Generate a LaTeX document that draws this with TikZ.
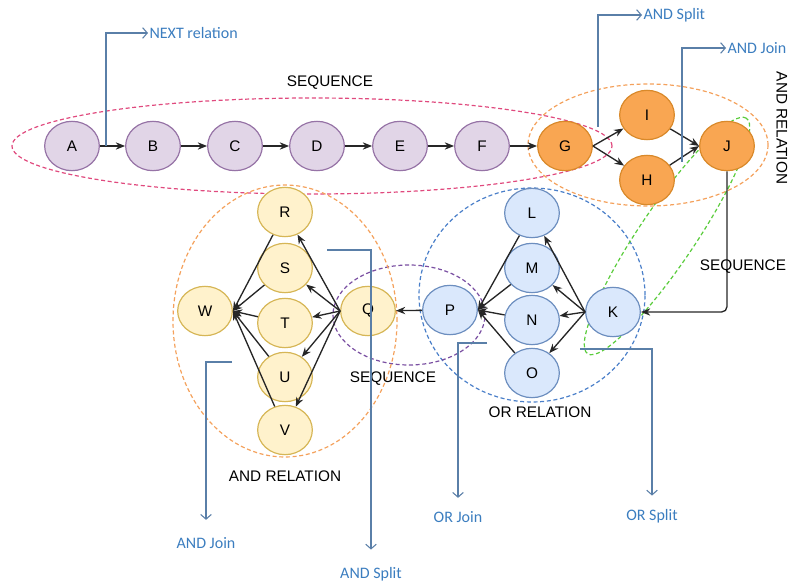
\documentclass[tikz,border=0pt]{standalone}
\usepackage{fontspec}
\setmainfont{Liberation Sans}
\newfontfamily\annfont{Carlito}
\usetikzlibrary{shapes.geometric, arrows.meta}
\definecolor{pufill}{HTML}{E1D5E7}
\definecolor{pudraw}{HTML}{9673A6}
\definecolor{orfill}{HTML}{F9A652}
\definecolor{ordraw}{HTML}{D9892A}
\definecolor{blfill}{HTML}{DAE8FC}
\definecolor{bldraw}{HTML}{6C8EBF}
\definecolor{yefill}{HTML}{FFF2CC}
\definecolor{yedraw}{HTML}{D6B656}
\definecolor{grpink}{HTML}{E04A7E}
\definecolor{grorange}{HTML}{F4A15C}
\definecolor{grblue}{HTML}{4A7FC9}
\definecolor{grpurple}{HTML}{7A4FA2}
\definecolor{grgreen}{HTML}{5ACC3C}
\definecolor{anndraw}{HTML}{5A7FA8}
\definecolor{anntext}{HTML}{3B7DBF}
\begin{document}
\begin{tikzpicture}[x=0.75pt, y=0.75pt, >={Stealth[length=7pt, width=5.5pt]}, font=\fontsize{11.5}{13}\selectfont,
	st/.style={ellipse, line width=0.9pt, minimum width=41pt, minimum height=37pt, inner sep=0pt},
	pu/.style={st, fill=pufill, draw=pudraw},
	og/.style={st, fill=orfill, draw=ordraw},
	bl/.style={st, fill=blfill, draw=bldraw},
	ye/.style={st, fill=yefill, draw=yedraw},
	flow/.style={->, line width=1pt, black!85},
	grp/.style={dash pattern=on 3pt off 2pt, line width=0.9pt},
	ann/.style={draw=anndraw, -{Straight Barb[length=3.5pt, width=8pt]}, line width=0.8pt},
	anntxt/.style={text=anntext, inner sep=1pt, font=\annfont\fontsize{12}{14}\selectfont}]
	\useasboundingbox (0,0) rectangle (793,-581);
	
	% groups
	\draw[grp, grpink] (312,-146) ellipse (300 and 48);
	\draw[grp, grorange] (648,-145) ellipse (120 and 61);
	\draw[grp, grblue] (532,-295) ellipse (113 and 107);
	\draw[grp, grpurple] (409,-315) ellipse (76 and 50);
	\draw[grp, grorange] (285,-321) ellipse (112 and 136);
	\draw[grp, grgreen, rotate around={56:(667,-236)}] (667,-236) ellipse (142 and 28);
	
	% first row
	\node[pu] (A) at (72,-146) {A};
	\node[pu] (B) at (153,-146) {B};
	\node[pu] (C) at (235,-146) {C};
	\node[pu] (D) at (317,-146) {D};
	\node[pu] (E) at (400,-146) {E};
	\node[pu] (F) at (482,-146) {F};
	\node[og] (G) at (565,-146) {G};
	\node[og] (I) at (647,-115) {I};
	\node[og] (H) at (647,-180) {H};
	\node[og] (J) at (727,-146) {J};
	
	% OR part
	\node[bl] (L) at (532,-213) {L};
	\node[bl] (M) at (532,-268) {M};
	\node[bl] (N) at (532,-320) {N};
	\node[bl] (O) at (532,-373) {O};
	\node[bl] (K) at (613,-312) {K};
	\node[bl] (P) at (450,-310) {P};
	
	% AND part
	\node[ye] (Q) at (368,-311) {Q};
	\node[ye] (R) at (285,-212) {R};
	\node[ye] (S) at (285,-268) {S};
	\node[ye] (T) at (285,-323) {T};
	\node[ye] (U) at (285,-377) {U};
	\node[ye] (V) at (285,-430) {V};
	\node[ye] (W) at (205,-311) {W};
	
	\draw[flow] (A) -- (B);
	\draw[flow] (B) -- (C);
	\draw[flow] (C) -- (D);
	\draw[flow] (D) -- (E);
	\draw[flow] (E) -- (F);
	\draw[flow] (F) -- (G);
	\draw[flow] (G.east) -- (I);
	\draw[flow] (G.east) -- (H);
	\draw[flow] (I) -- (J.west);
	\draw[flow] (H) -- (J.west);
	\draw[flow, rounded corners=4] (J) |- (K);
	\foreach \n in {L,M,N,O} {
		\draw[flow] (K.west) -- (\n);
		\draw[flow] (\n) -- (P.east);
	}
	\draw[flow] (P) -- (Q);
	\foreach \n in {R,S,T,U,V} {
		\draw[flow] (Q.west) -- (\n);
		\draw[flow] (\n) -- (W.east);
	}
	
	% group names
	\node at (330,-83) {SEQUENCE};
	\node[rotate=-90] at (782,-128) {AND RELATION};
	\node at (743,-267) {SEQUENCE};
	\node at (393,-379) {SEQUENCE};
	\node at (540,-412) {OR RELATION};
	\node at (285,-476) {AND RELATION};
	
	% notes
	\node[anntxt, anchor=west] (nxt) at (148,-33) {NEXT relation};
	\node[anntxt, anchor=west] (asp) at (642,-15) {AND Split};
	\node[anntxt, anchor=west] (ajn) at (726,-48) {AND Join};
	\node[anntxt] (ajb) at (206,-543) {AND Join};
	\node[anntxt] (asb) at (371,-574) {AND Split};
	\node[anntxt] (ojb) at (458,-517) {OR Join};
	\node[anntxt] (osb) at (652,-516) {OR Split};
	
	\coordinate (nx) at (106,-146);
	\coordinate (as) at (598,-127);
	\coordinate (aj) at (682,-162);
	\coordinate (aj2) at (232,-362);
	\coordinate (as2) at (327,-250);
	\coordinate (oj) at (487,-343);
	\coordinate (os) at (580,-349);
	
	\draw[ann] (nx) |- (nxt.west);
	\draw[ann] (as) |- (asp.west);
	\draw[ann] (aj) |- (ajn.west);
	\draw[ann, shorten >=12pt] (aj2) -| (ajb.north);
	\draw[ann, shorten >=12pt] (as2) -| (asb.north);
	\draw[ann, shorten >=9pt] (oj) -| (ojb.north);
	\draw[ann, shorten >=9pt] (os) -| (osb.north);
	
\end{tikzpicture}
\end{document}
